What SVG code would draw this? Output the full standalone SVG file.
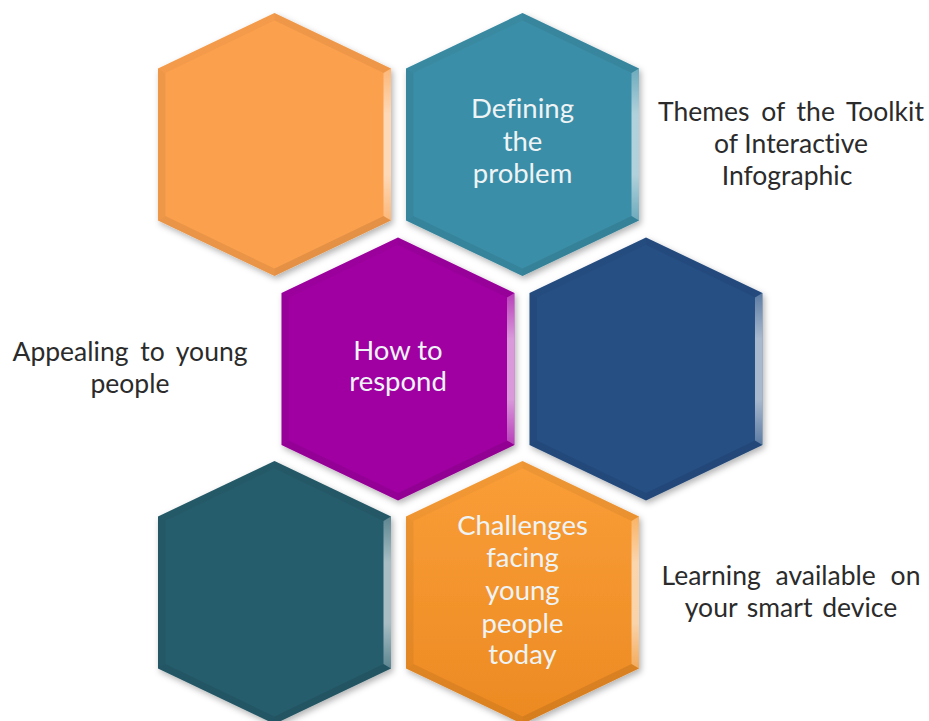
<svg xmlns="http://www.w3.org/2000/svg" xmlns:xlink="http://www.w3.org/1999/xlink" width="929" height="721" viewBox="0 0 929 721">
<style>
.lbl{font-family:Lato,"Open Sans","Liberation Sans",sans-serif;font-size:26.5px;fill:#2b2b2b;text-anchor:middle;font-variant-ligatures:none}
.hx{font-family:Lato,"Open Sans","Liberation Sans",sans-serif;font-size:27.5px;fill:#eef4f6;text-anchor:middle;font-variant-ligatures:none}
</style>
<defs>
<filter id="sh" x="-20%" y="-20%" width="140%" height="140%">
<feDropShadow dx="2" dy="3" stdDeviation="3" flood-color="#000" flood-opacity="0.3"/>
</filter>
<linearGradient id="hiR" x1="0" y1="0" x2="0" y2="1">
<stop offset="0" stop-color="#fff" stop-opacity="0.25"/>
<stop offset="0.3" stop-color="#fff" stop-opacity="0.6"/>
<stop offset="0.7" stop-color="#fff" stop-opacity="0.6"/>
<stop offset="1" stop-color="#fff" stop-opacity="0.25"/>
</linearGradient>
<linearGradient id="orG" x1="0" y1="0" x2="0" y2="1">
<stop offset="0" stop-color="#FA9E38"/>
<stop offset="1" stop-color="#EC8A22"/>
</linearGradient>
<polygon id="hexShape" points="0,-131.5 116.5,-76 116.5,76 0,131.5 -116.5,76 -116.5,-76"/>
<g id="bevel">
<polygon points="0,-131.5 116.5,-76 109,-71.5 0,-124" fill="#000" fill-opacity="0.05"/>
<polygon points="116.5,-76 116.5,76 109,71.5 109,-71.5" fill="url(#hiR)"/>
<polygon points="116.5,76 0,131.5 0,124 109,71.5" fill="#000" fill-opacity="0.09"/>
<polygon points="0,131.5 -116.5,76 -109,71.5 0,124" fill="#000" fill-opacity="0.07"/>
<polygon points="-116.5,76 -116.5,-76 -109,-71.5 -109,71.5" fill="#000" fill-opacity="0.05"/>
<polygon points="-116.5,-76 0,-131.5 0,-124 -109,-71.5" fill="#000" fill-opacity="0.03"/>
</g>
</defs>
<rect width="929" height="721" fill="#fff"/>
<g id="connectors"></g>
<g id="node-orange-top" transform="translate(274.5,144.5)">
<use xlink:href="#hexShape" fill="#FBA04D" filter="url(#sh)"/>
<use xlink:href="#bevel"/>
</g>
<g id="node-defining" transform="translate(522.5,144.5)">
<use xlink:href="#hexShape" fill="#3A8EA7" filter="url(#sh)"/>
<use xlink:href="#bevel"/>
<text class="hx" x="0" y="-27">Defining</text>
<text class="hx" x="0" y="6">the</text>
<text class="hx" x="0" y="38">problem</text>
</g>
<g id="node-respond" transform="translate(398,369)">
<use xlink:href="#hexShape" fill="#A001A2" filter="url(#sh)"/>
<use xlink:href="#bevel"/>
<text class="hx" x="0" y="-9">How to</text>
<text class="hx" x="0" y="22">respond</text>
</g>
<g id="node-blue" transform="translate(646,369)">
<use xlink:href="#hexShape" fill="#264F84" filter="url(#sh)"/>
<use xlink:href="#bevel"/>
</g>
<g id="node-teal-bottom" transform="translate(274.5,592.5)">
<use xlink:href="#hexShape" fill="#285D6C" filter="url(#sh)"/>
<use xlink:href="#bevel"/>
</g>
<g id="node-challenges" transform="translate(522.5,592.5)">
<use xlink:href="#hexShape" fill="url(#orG)" filter="url(#sh)"/>
<use xlink:href="#bevel"/>
<text class="hx" x="0" y="-58">Challenges</text>
<text class="hx" x="0" y="-26">facing</text>
<text class="hx" x="0" y="7">young</text>
<text class="hx" x="0" y="40">people</text>
<text class="hx" x="0" y="71">today</text>
</g>
<g id="label-themes">
<text class="lbl" x="791" y="121" word-spacing="5">Themes of the Toolkit</text>
<text class="lbl" x="791" y="153">of Interactive</text>
<text class="lbl" x="787" y="185">Infographic</text>
</g>
<g id="label-appealing">
<text class="lbl" x="130" y="361" word-spacing="5">Appealing to young</text>
<text class="lbl" x="130" y="393">people</text>
</g>
<g id="label-learning">
<text class="lbl" x="791" y="585" word-spacing="8">Learning available on</text>
<text class="lbl" x="791" y="617" word-spacing="3">your smart device</text>
</g>
</svg>
